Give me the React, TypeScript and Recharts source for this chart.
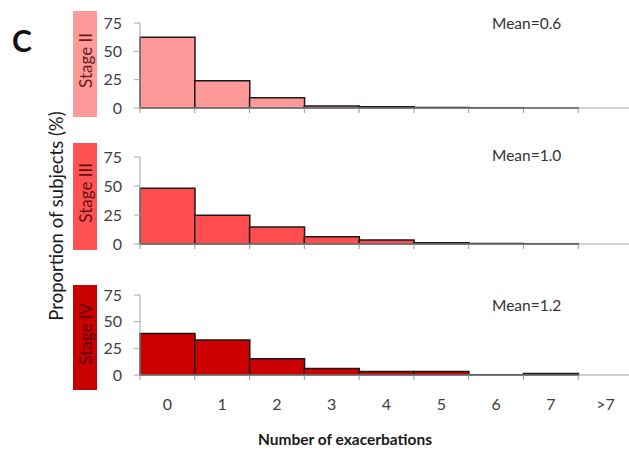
import React from 'react';
import { BarChart, Bar, XAxis, YAxis } from 'recharts';

const CATEGORIES = ['0', '1', '2', '3', '4', '5', '6', '7', '>7'];
const STAGE_II = [62.5, 24, 9, 1.8, 1.2, 0.5, 0.2, 0.1, 0];
const STAGE_III = [48, 24.7, 14.7, 6.2, 3.4, 1.1, 0.5, 0.2, 0];
const STAGE_IV = [39, 32.8, 15.3, 6.2, 3.2, 3.2, 0.3, 1.5, 0];
const Y_TICKS = [0, 25, 50, 75];

const PANELS = [
  { stage: 'Stage II', values: STAGE_II, mean: 'Mean=0.6', fill: '#ff9999', box: '#ff9a9a', text: '#6e1a1a', top: 23, bottom: 108, boxTop: 11, boxBottom: 117, meanY: 16 },
  { stage: 'Stage III', values: STAGE_III, mean: 'Mean=1.0', fill: '#ff4d4d', box: '#ff5252', text: '#661010', top: 157, bottom: 244, boxTop: 143, boxBottom: 250, meanY: 148 },
  { stage: 'Stage IV', values: STAGE_IV, mean: 'Mean=1.2', fill: '#cc0000', box: '#c80000', text: '#5e0000', top: 295, bottom: 375, boxTop: 285, boxBottom: 390, meanY: 298 },
];

const FONT = 'Lato, "Open Sans", sans-serif';
const PLOT_LEFT = 140;
const PLOT_RIGHT = 633;
const TOP_PAD = 14;
const BAND = (PLOT_RIGHT - PLOT_LEFT) / CATEGORIES.length;

const BoundaryTick = (props: any) => {
  const { x, y, payload, index, showLabel } = props;
  const half = BAND / 2;
  return (
    <g>
      <line x1={x - half} x2={x - half} y1={y} y2={y + 5} stroke="#999" />
      {index === CATEGORIES.length - 1 && (
        <line x1={x + half} x2={x + half} y1={y} y2={y + 5} stroke="#999" />
      )}
      {showLabel && (
        <text x={x} y={y + 35} textAnchor="middle" fill="#404040" fontSize={16} fontFamily={FONT}>
          {payload.value}
        </text>
      )}
    </g>
  );
};

const Panel = ({ p, last }: { p: typeof PANELS[number]; last: boolean }) => {
  const data = CATEGORIES.map((c, i) => ({ name: c, value: p.values[i] }));
  const axisH = last ? 50 : 8;
  return (
    <div style={{ position: 'absolute', left: 0, top: p.top - TOP_PAD }}>
      <BarChart
        width={640}
        height={p.bottom - p.top + TOP_PAD + axisH}
        data={data}
        margin={{ top: TOP_PAD, right: 640 - PLOT_RIGHT, left: 0, bottom: 0 }}
        barCategoryGap={0}
      >
        <XAxis
          dataKey="name"
          interval={0}
          height={axisH}
          tickSize={0}
          tickMargin={0}
          tickLine={false}
          axisLine={{ stroke: '#a6a6a6' }}
          tick={(tp: any) => <BoundaryTick {...tp} showLabel={last} />}
        />
        <YAxis
          width={PLOT_LEFT}
          domain={[0, 75]}
          ticks={Y_TICKS}
          interval={0}
          tickSize={6}
          tickMargin={12}
          axisLine={{ stroke: '#a6a6a6' }}
          tickLine={{ stroke: '#a6a6a6' }}
          tick={{ fill: '#404040', fontSize: 16, fontFamily: FONT }}
        />
        <Bar dataKey="value" fill={p.fill} stroke="#1a1a1a" strokeWidth={1.5} isAnimationActive={false} />
      </BarChart>
    </div>
  );
};

export default function App() {
  return (
    <div style={{ position: 'absolute', left: 0, top: 0, width: 629, height: 450, overflow: 'hidden', background: '#fff', fontFamily: FONT }}>
      <div style={{ position: 'absolute', left: 12, top: 25, fontSize: 30, fontWeight: 700, color: '#111', lineHeight: 1 }}>C</div>
      <div
        style={{
          position: 'absolute', left: 56, top: 216, transform: 'translate(-50%, -50%) rotate(-90deg)',
          whiteSpace: 'nowrap', fontSize: 18.5, color: '#1a1a1a', lineHeight: 1,
        }}
      >
        Proportion of subjects (%)
      </div>
      {PANELS.map((p, i) => (
        <React.Fragment key={p.stage}>
          <div
            style={{
              position: 'absolute', left: 73, top: p.boxTop, width: 24, height: p.boxBottom - p.boxTop,
              background: p.box, display: 'flex', alignItems: 'center', justifyContent: 'center',
            }}
          >
            <span style={{ writingMode: 'vertical-rl', transform: 'rotate(180deg)', fontSize: 17, color: p.text, lineHeight: 1, whiteSpace: 'nowrap', marginBottom: 8 }}>
              {p.stage}
            </span>
          </div>
          <Panel p={p} last={i === PANELS.length - 1} />
          <div style={{ position: 'absolute', left: 492, top: p.meanY, fontSize: 15.5, color: '#333', lineHeight: 1 }}>{p.mean}</div>
        </React.Fragment>
      ))}
      <div style={{ position: 'absolute', left: 345, top: 432, transform: 'translateX(-50%)', fontSize: 15.5, fontWeight: 700, color: '#1a1a1a', whiteSpace: 'nowrap', lineHeight: 1 }}>
        Number of exacerbations
      </div>
    </div>
  );
}
